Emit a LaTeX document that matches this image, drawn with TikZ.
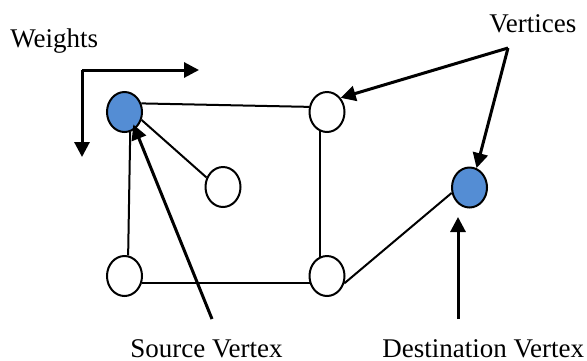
\documentclass[tikz,border=0pt]{standalone}
\usepackage{fontspec}
\setmainfont{Liberation Serif}
\usetikzlibrary{shapes.geometric, arrows.meta}
\definecolor{vblue}{RGB}{84,141,212}
\tikzstyle{vertex} = [
    ellipse,
    minimum width=17.5pt,
    minimum height=20pt,
    inner sep=0pt,
    line width=1pt,
    draw=black,
    fill=white
]
\tikzstyle{endvertex} = [
    vertex,
    fill=vblue
]
\tikzstyle{caption} = [
    inner sep=0pt,
    anchor=base west,
    font=\fontsize{13.5}{16}\selectfont
]
\tikzstyle{edge} = [line width=1pt]
\tikzstyle{arrow} = [line width=1.5pt,-{Triangle[length=7.5pt,width=7.5pt]}]

\begin{document}
\begin{tikzpicture}[x=0.5pt, y=-0.5pt]
\useasboundingbox (0,0) rectangle (587,360);

\node (src) [endvertex] at (124.5,112) {};
\node (tr) [vertex] at (327,112) {};
\node (mid) [vertex] at (223,187) {};
\node (dst) [endvertex] at (469.5,187.5) {};
\node (bl) [vertex] at (124.5,276) {};
\node (br) [vertex] at (327,276) {};

\node (weights) [caption] at (10,47) {Weights};
\node (vertices) [caption] at (489,32) {Vertices};
\node (srclabel) [caption] at (130,357) {Source Vertex};
\node (dstlabel) [caption] at (382,357) {Destination Vertex};

\coordinate (wcorner) at (82,70);
\coordinate (wright) at (199,70);
\coordinate (wdown) at (82,157);
\coordinate (vfoot) at (508,48);
\coordinate (sfoot) at (212,319);
\coordinate (dfoot) at (458,319);
\coordinate (dtip) at (458,217);

\draw [edge] (src.27) -- (tr.164);
\draw [edge] (src.-74) -- (bl.80);
\draw [edge] (src.-25) -- (mid.150);
\draw [edge] (tr.-111) -- (br.111);
\draw [edge] (bl.-23) -- (br.-157);
\draw [edge] (br.-23) -- (dst.-163);

\draw [arrow] (wcorner) -- (wright);
\draw [arrow] (wcorner) -- (wdown);
\draw [arrow] (vfoot) -- (tr.46);
\draw [arrow] (vfoot) -- (dst.70);
\draw [arrow, shorten >=-2.5pt] (sfoot) -- (src.-58);
\draw [arrow] (dfoot) -- (dtip);

\end{tikzpicture}
\end{document}
